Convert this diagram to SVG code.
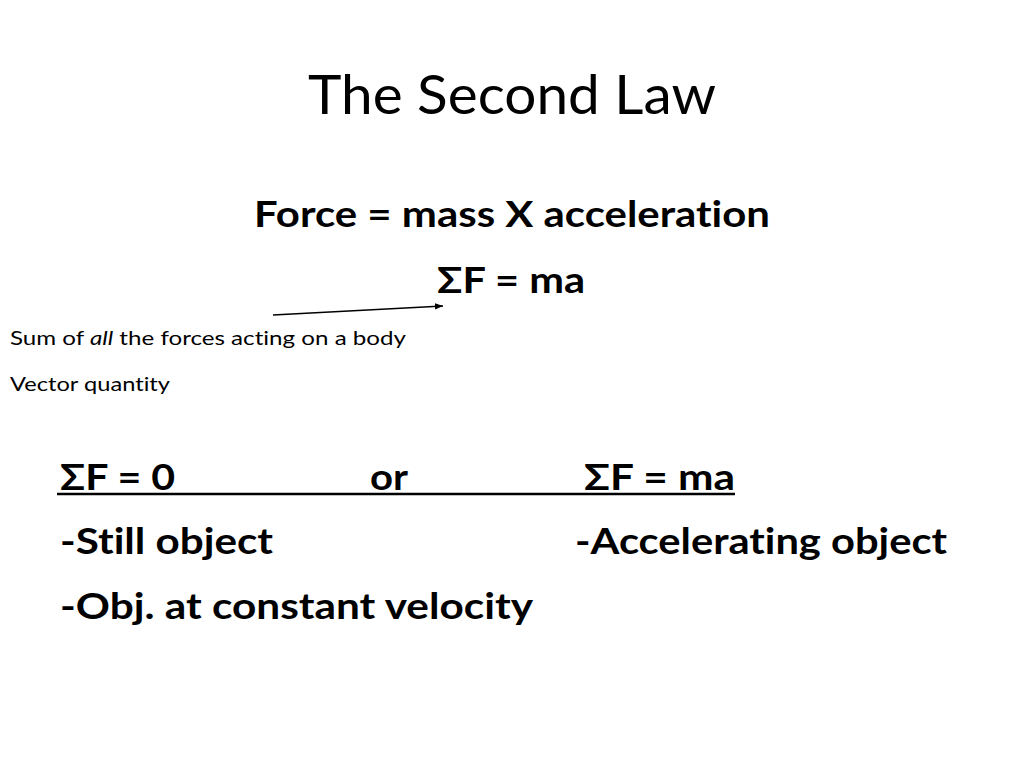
<svg xmlns="http://www.w3.org/2000/svg" width="1024" height="768" viewBox="0 0 1024 768">
<defs>
<style>
text{font-family:Lato,"Open Sans","Liberation Sans",sans-serif;fill:#000;font-variant-ligatures:none;font-feature-settings:"liga" 0,"dlig" 0}
.t{font-size:55px}
.b{font-weight:bold;font-size:36px}
.s{font-size:19px}
</style>
<marker id="ah" viewBox="0 0 10 10" refX="10" refY="5" markerWidth="8" markerHeight="8" markerUnits="userSpaceOnUse" orient="auto">
<path d="M0,1 L10,5 L0,9 Z" fill="#000"/>
</marker>
</defs>
<rect width="1024" height="768" fill="#fff"/>
<g id="title"><text class="t" x="512" y="114" text-anchor="middle" textLength="408" lengthAdjust="spacingAndGlyphs">The Second Law</text></g>
<g id="formula1"><text class="b" x="512" y="227" text-anchor="middle" textLength="516" lengthAdjust="spacingAndGlyphs">Force = mass X acceleration</text></g>
<g id="formula2"><text class="b" x="511" y="293" text-anchor="middle" textLength="148" lengthAdjust="spacingAndGlyphs">ΣF = ma</text></g>
<g id="note1"><text class="s" x="10" y="345" textLength="396" lengthAdjust="spacingAndGlyphs">Sum of <tspan font-style="italic">all</tspan>  the forces acting on a body</text></g>
<g id="note2"><text class="s" x="10" y="391" textLength="160" lengthAdjust="spacingAndGlyphs">Vector quantity</text></g>
<g id="connectors"><line x1="273" y1="315" x2="443" y2="306" stroke="#000" stroke-width="1.3" marker-end="url(#ah)"/></g>
<g id="cases">
<text class="b" x="60" y="490" textLength="115" lengthAdjust="spacingAndGlyphs">ΣF = 0</text>
<text class="b" x="370" y="490" textLength="38" lengthAdjust="spacingAndGlyphs">or</text>
<text class="b" x="584" y="490" textLength="151" lengthAdjust="spacingAndGlyphs">ΣF = ma</text>
<line x1="57" y1="494" x2="735" y2="494" stroke="#000" stroke-width="2.5"/>
<text class="b" x="60" y="554" textLength="213" lengthAdjust="spacingAndGlyphs">-Still object</text>
<text class="b" x="575" y="554" textLength="372" lengthAdjust="spacingAndGlyphs">-Accelerating object</text>
<text class="b" x="60" y="619" textLength="473" lengthAdjust="spacingAndGlyphs">-Obj. at constant velocity</text>
</g>
</svg>
